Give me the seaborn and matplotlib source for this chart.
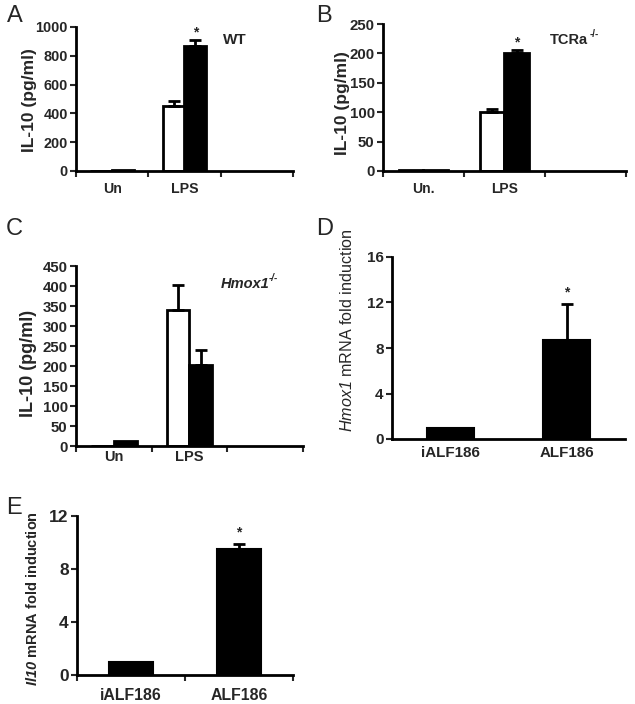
import numpy as np
import pandas as pd
import matplotlib
matplotlib.use("Agg")
import matplotlib.pyplot as plt
import seaborn as sns

# ---------------- data ----------------
groups_a = ["Un", "LPS"]
groups_b = ["Un.", "LPS"]
groups_c = ["Un", "LPS"]
conds = ["open", "filled"]

a_open = [0, 452]
a_open_err = [0, 36]
a_filled = [10, 866]
a_filled_err = [0, 45]

b_open = [1, 100]
b_open_err = [0, 6]
b_filled = [1, 200]
b_filled_err = [0, 6]

c_open = [0, 340]
c_open_err = [0, 63]
c_filled = [12, 202]
c_filled_err = [0, 38]

d_cats = ["iALF186", "ALF186"]
d_vals = [1.0, 8.7]
d_err = [0, 3.2]

e_cats = ["iALF186", "ALF186"]
e_vals = [1.0, 9.5]
e_err = [0, 0.4]

# ---------------- style ----------------
sns.set_style("ticks")
plt.rcParams["font.family"] = ["Liberation Sans", "DejaVu Sans"]
plt.rcParams["mathtext.fontset"] = "custom"
plt.rcParams["mathtext.rm"] = "Liberation Sans:bold"
plt.rcParams["mathtext.sf"] = "Liberation Sans:bold:italic"
plt.rcParams["mathtext.tt"] = "Liberation Sans:italic"
plt.rcParams["mathtext.bf"] = "Liberation Sans:bold"

W, H = 635, 704
fig = plt.figure(figsize=(W / 100, H / 100), dpi=100)


def box(l, t, r, b):
    return [l / W, 1 - b / H, (r - l) / W, (b - t) / H]


def style_axes(ax, ylim, yticks, ylabel, lab_xy, tfs, lfs, lweight="bold"):
    ax.set_ylim(*ylim)
    ax.set_yticks(yticks)
    for s in ["top", "right"]:
        ax.spines[s].set_visible(False)
    for s in ["left", "bottom"]:
        ax.spines[s].set_linewidth(2)
        ax.spines[s].set_color("black")
    ax.tick_params(axis="y", direction="out", length=4, width=1.5, labelsize=tfs, pad=2)
    for lab in ax.get_yticklabels():
        lab.set_fontweight("bold")
    ax.set_ylabel(ylabel, fontsize=lfs, fontweight=lweight)
    ax.yaxis.set_label_coords(*lab_xy)
    ax.set_xlabel("")


def add_err(ax, containers, errs):
    for cont, es in zip(containers, errs):
        for bar, e in zip(cont, es):
            if e > 0:
                x = bar.get_x() + bar.get_width() / 2
                h = bar.get_height()
                ax.errorbar([x], [h], yerr=[[0], [e]], fmt="none", ecolor="black",
                            elinewidth=2, capsize=4, capthick=2, zorder=1)


def add_star(ax, bar, e, off):
    x = bar.get_x() + bar.get_width() / 2
    ax.annotate("*", (x, bar.get_height() + e), xytext=(0, off),
                textcoords="offset points", ha="center", va="bottom",
                fontsize=10, fontweight="bold")


def grouped(rect, cats, op, op_err, fi, fi_err, ylim, yticks, lab_xy, star_off,
            tfs, xfs, lfs, xpad):
    ax = fig.add_axes(rect)
    df = pd.DataFrame({"cat": cats * 2,
                       "cond": [conds[0]] * len(cats) + [conds[1]] * len(cats),
                       "val": op + fi})
    sns.barplot(data=df, x="cat", y="val", hue="cond", order=cats, hue_order=conds,
                palette={conds[0]: "white", conds[1]: "black"}, edgecolor="black",
                linewidth=2, width=0.6, gap=0, errorbar=None, legend=False,
                saturation=1, ax=ax)
    add_err(ax, ax.containers[:2], [op_err, fi_err])
    if star_off is not None:
        add_star(ax, ax.containers[1][1], fi_err[1], star_off)
    ax.set_xlim(-0.5, 2.5)
    ax.set_xticks([0, 1])
    ax.set_xticklabels(cats, fontsize=xfs, fontweight="bold")
    ax.set_xticks([-0.5, 0.5, 1.5, 2.5], minor=True)
    ax.tick_params(axis="x", which="major", length=0, pad=xpad)
    ax.tick_params(axis="x", which="minor", direction="out", length=4, width=1.5)
    style_axes(ax, ylim, yticks, "IL-10 (pg/ml)", lab_xy, tfs, lfs)
    return ax


def single(rect, cats, vals, errs, ylim, yticks, ylabel, lab_xy, xticks_minor, star_off,
           tfs, xfs, lfs, xpad, lweight):
    ax = fig.add_axes(rect)
    df = pd.DataFrame({"cat": cats, "val": vals})
    sns.barplot(data=df, x="cat", y="val", order=cats, color="black", edgecolor="black",
                linewidth=1.5, width=0.4, errorbar=None, saturation=1, ax=ax)
    add_err(ax, ax.containers[:1], [errs])
    add_star(ax, ax.containers[0][1], errs[1], star_off)
    ax.set_xlim(-0.5, 1.5)
    ax.set_xticks([0, 1])
    ax.set_xticklabels(cats, fontsize=xfs, fontweight="bold")
    ax.tick_params(axis="x", which="major", length=0, pad=xpad)
    if xticks_minor:
        ax.set_xticks([-0.5, 0.5, 1.5], minor=True)
        ax.tick_params(axis="x", which="minor", direction="out", length=4, width=1.5)
    style_axes(ax, ylim, yticks, ylabel, lab_xy, tfs, lfs, lweight)
    return ax


# Panel A
axA = grouped(box(76, 27, 293, 171), groups_a, a_open, a_open_err, a_filled, a_filled_err,
              (0, 1000), [0, 200, 400, 600, 800, 1000], (-0.18, 0.49), 0,
              10.4, 10.2, 12.5, 8)
# Panel B
axB = grouped(box(383, 24, 626, 171), groups_b, b_open, b_open_err, b_filled, b_filled_err,
              (0, 250), [0, 50, 100, 150, 200, 250], (-0.136, 0.46), 0,
              10.8, 10.0, 12.5, 8)
# Panel C
axC = grouped(box(76, 266, 303, 446), groups_c, c_open, c_open_err, c_filled, c_filled_err,
              (0, 450), list(range(0, 451, 50)), (-0.172, 0.46), None,
              10.8, 10.5, 13, 3)
# Panel D
axD = single(box(392, 257, 625, 439), d_cats, d_vals, d_err, (0, 16), [0, 4, 8, 12, 16],
             r"$\mathtt{Hmox1}$ mRNA fold induction", (-0.159, 0.6), False, 3,
             11, 10.9, 11.6, 5, "normal")
# Panel E
axE = single(box(77, 516, 293, 675), e_cats, e_vals, e_err, (0, 12), [0, 4, 8, 12],
             r"$\mathsf{Il10}$ mRNA fold induction", (-0.171, 0.48), True, 3,
             12.5, 11.4, 10.5, 9, "bold")

# annotations
def ftext(px, py, s, **kw):
    fig.text(px / W, 1 - py / H, s, **kw)

ftext(223, 44, "WT", ha="left", va="baseline", fontsize=11, fontweight="bold")
ftext(550, 44, "TCRa", ha="left", va="baseline", fontsize=10.5, fontweight="bold")
ftext(590, 37, "-/-", ha="left", va="baseline", fontsize=7, fontweight="bold")
ftext(221, 288, "Hmox1", ha="left", va="baseline", fontsize=10.5, fontweight="bold",
      fontstyle="italic")
ftext(269, 281, "-/-", ha="left", va="baseline", fontsize=7, fontweight="bold",
      fontstyle="italic")

for lab, px, py in [("A", 7, 5), ("B", 316, 5), ("C", 6, 218), ("D", 316, 218), ("E", 6, 497)]:
    ftext(px, py, lab, ha="left", va="top", fontsize=17)

fig.savefig("out.png", dpi=100)
